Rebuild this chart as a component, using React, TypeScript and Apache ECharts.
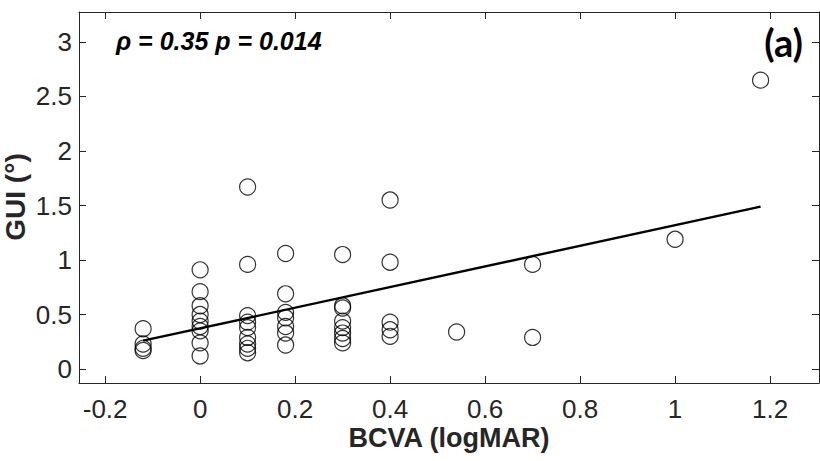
import React, { useEffect, useRef } from "react";
import * as echarts from "echarts";

// BCVA (logMAR) values, one per eye
const bcva = [
  -0.12, -0.12, -0.12, -0.12,
  0, 0, 0, 0, 0, 0, 0, 0, 0,
  0.1, 0.1, 0.1, 0.1, 0.1, 0.1, 0.1, 0.1, 0.1,
  0.18, 0.18, 0.18, 0.18, 0.18, 0.18, 0.18,
  0.3, 0.3, 0.3, 0.3, 0.3, 0.3, 0.3, 0.3,
  0.4, 0.4, 0.4, 0.4, 0.4,
  0.54,
  0.7, 0.7,
  1.0,
  1.18,
];
// GUI (°) values, matching bcva order
const gui = [
  0.37, 0.23, 0.19, 0.17,
  0.91, 0.71, 0.58, 0.5, 0.44, 0.39, 0.35, 0.24, 0.12,
  1.67, 0.96, 0.49, 0.43, 0.38, 0.29, 0.23, 0.19, 0.15,
  1.06, 0.69, 0.52, 0.47, 0.39, 0.33, 0.22,
  1.05, 0.58, 0.56, 0.44, 0.38, 0.33, 0.28, 0.24,
  1.55, 0.98, 0.43, 0.36, 0.3,
  0.34,
  0.96, 0.29,
  1.19,
  2.65,
];
// regression line end points
const fitX = [-0.12, 1.18];
const fitY = [0.26, 1.49];

const xTicks = [-0.2, 0, 0.2, 0.4, 0.6, 0.8, 1, 1.2];
const yTicks = [0, 0.5, 1, 1.5, 2, 2.5, 3];
const xRange = [-0.255, 1.303];
const yRange = [-0.128, 3.275];

const xTitle = "BCVA (logMAR)";
const yTitle = "GUI (°)";
const statText = "ρ = 0.35 p = 0.014";
const panelText = "(a)";

const FONT = "'Liberation Sans', Arial, Helvetica, sans-serif";
const AX = "#262626";

const fmt = (v: number) => String(parseFloat(Number(v).toFixed(2)));

export default function App() {
  const ref = useRef<HTMLDivElement>(null);
  useEffect(() => {
    if (!ref.current) return;
    const chart = echarts.init(ref.current, undefined, { renderer: "svg" });
    const axisCommon = {
      type: "value" as const,
      axisLine: { show: true, onZero: false, lineStyle: { color: AX, width: 1 } },
      splitLine: { show: false },
    };
    chart.setOption({
      animation: false,
      backgroundColor: "#ffffff",
      grid: { left: 79, top: 12, width: 740, height: 371, containLabel: false },
      xAxis: [
        {
          ...axisCommon,
          position: "bottom",
          min: xRange[0],
          max: xRange[1],
          axisTick: { show: true, inside: true, length: 7, customValues: xTicks, lineStyle: { color: AX } },
          axisLabel: {
            show: true,
            customValues: xTicks,
            formatter: (v: number) => fmt(v),
            color: AX,
            fontFamily: FONT,
            fontSize: 26,
            margin: 13,
          },
        },
        {
          ...axisCommon,
          position: "top",
          min: xRange[0],
          max: xRange[1],
          axisTick: { show: true, inside: true, length: 7, customValues: xTicks, lineStyle: { color: AX } },
          axisLabel: { show: false },
        },
      ],
      yAxis: [
        {
          ...axisCommon,
          position: "left",
          min: yRange[0],
          max: yRange[1],
          axisTick: { show: true, inside: true, length: 7, customValues: yTicks, lineStyle: { color: AX } },
          axisLabel: {
            show: true,
            customValues: yTicks,
            formatter: (v: number) => fmt(v),
            color: AX,
            fontFamily: FONT,
            fontSize: 26,
            margin: 7,
          },
        },
        {
          ...axisCommon,
          position: "right",
          min: yRange[0],
          max: yRange[1],
          axisTick: { show: true, inside: true, length: 7, customValues: yTicks, lineStyle: { color: AX } },
          axisLabel: { show: false },
        },
      ],
      series: [
        {
          type: "scatter",
          xAxisIndex: 0,
          yAxisIndex: 0,
          symbol: "circle",
          symbolSize: 16,
          itemStyle: { color: "rgba(0,0,0,0)", borderColor: "#000", borderWidth: 1.2 },
          data: bcva.map((x, i) => [x, gui[i]]),
          z: 2,
        },
        {
          type: "line",
          xAxisIndex: 0,
          yAxisIndex: 0,
          showSymbol: false,
          symbol: "none",
          lineStyle: { color: "#000", width: 2.4 },
          data: fitX.map((x, i) => [x, fitY[i]]),
          z: 3,
        },
      ],
      graphic: [
        {
          type: "text",
          x: 116,
          y: 41,
          style: {
            text: statText,
            fontFamily: FONT,
            fontSize: 25,
            fontWeight: "bold",
            fontStyle: "italic",
            fill: "#000",
            align: "left",
            verticalAlign: "middle",
          },
        },
        {
          type: "text",
          x: 803,
          y: 42,
          style: {
            text: panelText,
            fontFamily: "Lato, 'Open Sans', sans-serif",
            fontSize: 38,
            fontWeight: "bold",
            fill: "#000",
            align: "right",
            verticalAlign: "middle",
          },
        },
        {
          type: "text",
          x: 449,
          y: 438,
          style: {
            text: xTitle,
            fontFamily: FONT,
            fontSize: 27,
            fontWeight: "bold",
            fill: AX,
            align: "center",
            verticalAlign: "middle",
          },
        },
        {
          type: "text",
          x: 15,
          y: 197,
          rotation: Math.PI / 2,
          style: {
            text: yTitle,
            fontFamily: FONT,
            fontSize: 28,
            fontWeight: "bold",
            fill: AX,
            align: "center",
            verticalAlign: "middle",
          },
        },
      ],
    });
    return () => chart.dispose();
  }, []);
  return (
    <div
      ref={ref}
      style={{ position: "absolute", left: 0, top: 0, width: 820, height: 461 }}
    />
  );
}
